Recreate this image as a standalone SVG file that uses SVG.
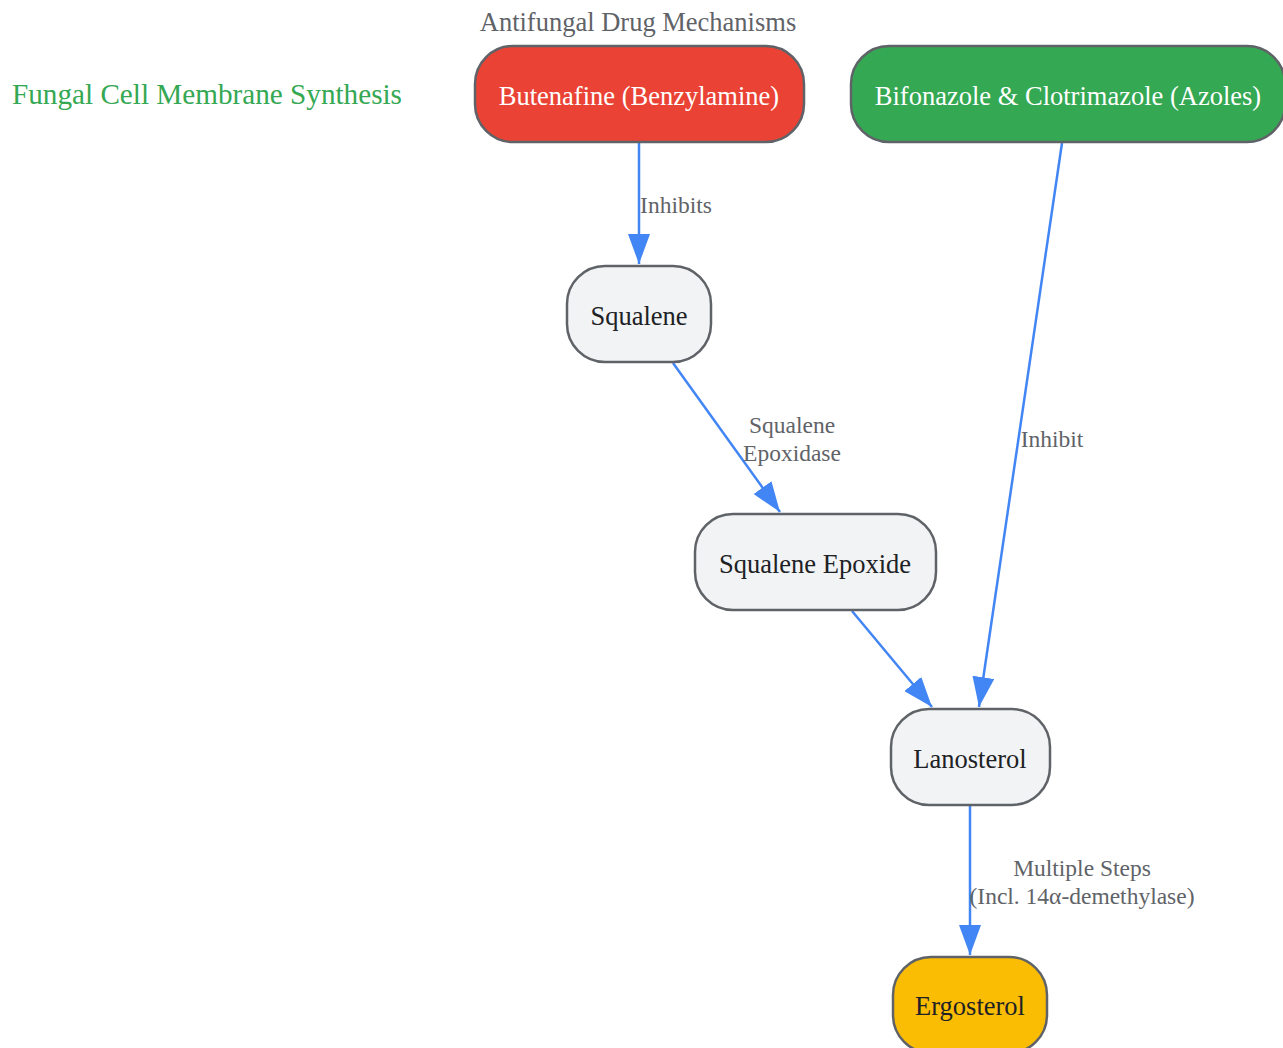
<svg xmlns="http://www.w3.org/2000/svg" width="1283" height="1048" viewBox="0 0 1283 1048">
<style>
.node rect{stroke:#5f6368;stroke-width:2.5}
.nt{font-family:"Liberation Serif",serif;font-size:26.5px;text-anchor:middle}
.el{font-family:"Liberation Serif",serif;font-size:23.5px;fill:#5f6368;text-anchor:middle}
.edge{stroke:#4285F4;stroke-width:2.5;fill:none}
</style>
<defs>
<marker id="ah" viewBox="0 0 30 22" refX="30" refY="11" markerWidth="30" markerHeight="22" markerUnits="userSpaceOnUse" orient="auto">
<path d="M0,0 L30,11 L0,22 z" fill="#4285F4"/>
</marker>
</defs>
<rect width="1283" height="1048" fill="#fff"/>
<text x="638" y="31" class="nt" fill="#5f6368">Antifungal Drug Mechanisms</text>
<text x="207" y="104" class="nt" fill="#34A853" style="font-size:29.2px">Fungal Cell Membrane Synthesis</text>
<g id="connectors">
<path class="edge" d="M639,143 L639,264" marker-end="url(#ah)"/>
<path class="edge" d="M673,363 L780,512" marker-end="url(#ah)"/>
<path class="edge" d="M852,611 L932,707" marker-end="url(#ah)"/>
<path class="edge" d="M1062,143 L979,707" marker-end="url(#ah)"/>
<path class="edge" d="M970,806 L970,955" marker-end="url(#ah)"/>
<text x="676" y="213" class="el">Inhibits</text>
<text x="792" y="433" class="el">Squalene</text>
<text x="792" y="461" class="el">Epoxidase</text>
<text x="1052" y="447" class="el">Inhibit</text>
<text x="1082" y="876" class="el">Multiple Steps</text>
<text x="1082" y="904" class="el">(Incl. 14α-demethylase)</text>
</g>
<g id="butenafine" class="node">
<rect x="475" y="46" width="329" height="96" rx="38" fill="#EA4335"/>
<text x="639" y="105" class="nt" fill="#fff">Butenafine (Benzylamine)</text>
</g>
<g id="bifonazole" class="node">
<rect x="851" y="46" width="434" height="96" rx="38" fill="#34A853"/>
<text x="1068" y="105" class="nt" fill="#fff">Bifonazole &amp; Clotrimazole (Azoles)</text>
</g>
<g id="squalene" class="node">
<rect x="567" y="266" width="144" height="96" rx="38" fill="#F1F3F4"/>
<text x="639" y="325" class="nt" fill="#202124">Squalene</text>
</g>
<g id="epoxide" class="node">
<rect x="695" y="514" width="241" height="96" rx="38" fill="#F1F3F4"/>
<text x="815" y="573" class="nt" fill="#202124">Squalene Epoxide</text>
</g>
<g id="lanosterol" class="node">
<rect x="891" y="709" width="159" height="96" rx="38" fill="#F1F3F4"/>
<text x="970" y="768" class="nt" fill="#202124">Lanosterol</text>
</g>
<g id="ergosterol" class="node">
<rect x="893" y="957" width="154" height="96" rx="38" fill="#FBBC04"/>
<text x="970" y="1015" class="nt" fill="#202124">Ergosterol</text>
</g>
</svg>
